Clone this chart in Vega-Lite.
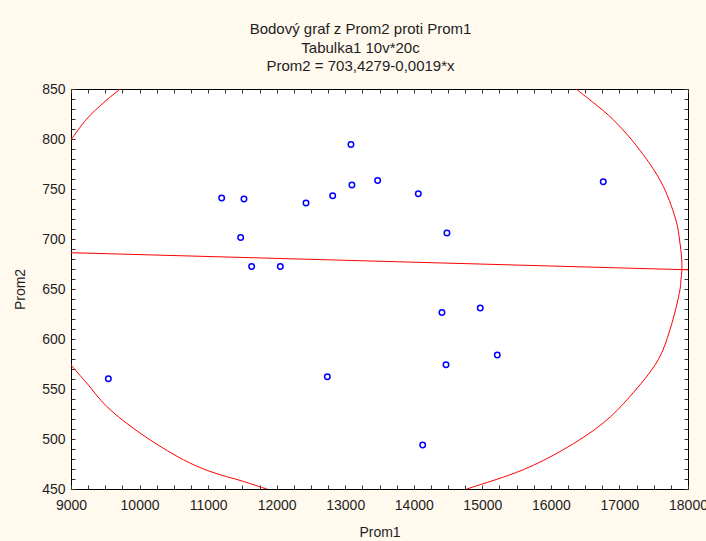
{
  "$schema": "https://vega.github.io/schema/vega-lite/v6.json",
  "width": 617,
  "height": 400,
  "autosize": {"type": "none"},
  "padding": {"left": 71, "top": 89, "right": 18, "bottom": 52},
  "background": "#FFF9EE",
  "title": {
    "text": ["Bodový graf z Prom2 proti Prom1", "Tabulka1 10v*20c", "Prom2 = 703,4279-0,0019*x"],
    "font": "Liberation Sans",
    "fontSize": 15,
    "fontWeight": "normal",
    "lineHeight": 18.5,
    "color": "#1e1e1e",
    "anchor": "middle",
    "dx": -19,
    "offset": 8
  },
  "config": {
    "view": {"stroke": "#000000", "strokeWidth": 1, "fill": "white"},
    "axis": {"labelFont": "Liberation Sans", "titleFont": "Liberation Sans", "labelColor": "#1e1e1e", "titleColor": "#1e1e1e", "gridColor": "#d9d9d9", "gridWidth": 1, "tickColor": "#333333", "domain": false}
  },
  "datasets": {
    "pts": [
      {"Prom1": 11198, "Prom2": 741},
      {"Prom1": 11523, "Prom2": 740},
      {"Prom1": 11475, "Prom2": 701.6},
      {"Prom1": 11635, "Prom2": 672.6},
      {"Prom1": 12053, "Prom2": 672.6},
      {"Prom1": 12428, "Prom2": 736},
      {"Prom1": 12817, "Prom2": 743.3},
      {"Prom1": 13084, "Prom2": 794.6},
      {"Prom1": 13098, "Prom2": 754},
      {"Prom1": 13473, "Prom2": 758.6},
      {"Prom1": 14066, "Prom2": 745.3},
      {"Prom1": 14484, "Prom2": 706},
      {"Prom1": 16764, "Prom2": 757.3},
      {"Prom1": 9545, "Prom2": 560.3},
      {"Prom1": 12739, "Prom2": 562.3},
      {"Prom1": 14411, "Prom2": 626.6},
      {"Prom1": 14970, "Prom2": 631},
      {"Prom1": 15218, "Prom2": 584},
      {"Prom1": 14470, "Prom2": 574.3},
      {"Prom1": 14130, "Prom2": 494}
    ],
    "reg": [
      {"Prom1": 9000, "Prom2": 686.3},
      {"Prom1": 18000, "Prom2": 669.2}
    ],
    "ell": [
      {"seg": "a", "i": 1, "Prom1": 8950, "Prom2": 795},
      {"seg": "a", "i": 2, "Prom1": 9000, "Prom2": 799.3},
      {"seg": "a", "i": 3, "Prom1": 9229, "Prom2": 820},
      {"seg": "a", "i": 4, "Prom1": 9496, "Prom2": 837.6},
      {"seg": "a", "i": 5, "Prom1": 9739, "Prom2": 851},
      {"seg": "a", "i": 6, "Prom1": 9800, "Prom2": 854},
      {"seg": "b", "i": 1, "Prom1": 16250, "Prom2": 857},
      {"seg": "b", "i": 2, "Prom1": 16351, "Prom2": 851},
      {"seg": "b", "i": 3, "Prom1": 16910, "Prom2": 819.3},
      {"seg": "b", "i": 4, "Prom1": 17348, "Prom2": 784.3},
      {"seg": "b", "i": 5, "Prom1": 17640, "Prom2": 752.6},
      {"seg": "b", "i": 6, "Prom1": 17835, "Prom2": 716},
      {"seg": "b", "i": 7, "Prom1": 17875, "Prom2": 700},
      {"seg": "b", "i": 8, "Prom1": 17908, "Prom2": 680},
      {"seg": "b", "i": 9, "Prom1": 17910, "Prom2": 668},
      {"seg": "b", "i": 10, "Prom1": 17897, "Prom2": 659},
      {"seg": "b", "i": 11, "Prom1": 17883, "Prom2": 649.3},
      {"seg": "b", "i": 12, "Prom1": 17737, "Prom2": 609.3},
      {"seg": "b", "i": 13, "Prom1": 17566, "Prom2": 579.3},
      {"seg": "b", "i": 14, "Prom1": 17154, "Prom2": 542.6},
      {"seg": "b", "i": 15, "Prom1": 16764, "Prom2": 516},
      {"seg": "b", "i": 16, "Prom1": 16180, "Prom2": 489.3},
      {"seg": "b", "i": 17, "Prom1": 15597, "Prom2": 469.3},
      {"seg": "b", "i": 18, "Prom1": 14820, "Prom2": 451},
      {"seg": "b", "i": 19, "Prom1": 14650, "Prom2": 447},
      {"seg": "c", "i": 1, "Prom1": 8950, "Prom2": 580},
      {"seg": "c", "i": 2, "Prom1": 9000, "Prom2": 574.3},
      {"seg": "c", "i": 3, "Prom1": 9229, "Prom2": 556},
      {"seg": "c", "i": 4, "Prom1": 9520, "Prom2": 532.6},
      {"seg": "c", "i": 5, "Prom1": 10006, "Prom2": 506},
      {"seg": "c", "i": 6, "Prom1": 10638, "Prom2": 479.3},
      {"seg": "c", "i": 7, "Prom1": 11027, "Prom2": 467.6},
      {"seg": "c", "i": 8, "Prom1": 11513, "Prom2": 457.6},
      {"seg": "c", "i": 9, "Prom1": 11854, "Prom2": 450},
      {"seg": "c", "i": 10, "Prom1": 12000, "Prom2": 447}
    ]
  },
  "resolve": {"axis": {"x": "independent", "y": "independent"}},
  "layer": [
    {
      "data": {"name": "ell"},
      "mark": {"type": "line", "color": "#ff0000", "strokeWidth": 1, "interpolate": "catmull-rom", "clip": true},
      "encoding": {
        "x": {"field": "Prom1", "type": "quantitative", "scale": {"domain": [9000, 18000], "nice": false, "zero": false}, "axis": null},
        "y": {"field": "Prom2", "type": "quantitative", "scale": {"domain": [450, 850], "nice": false, "zero": false}, "axis": null},
        "detail": {"field": "seg"},
        "order": {"field": "i", "type": "quantitative"}
      }
    },
    {
      "data": {"name": "reg"},
      "mark": {"type": "line", "color": "#ff0000", "strokeWidth": 1, "clip": true},
      "encoding": {
        "x": {"field": "Prom1", "type": "quantitative", "scale": {"domain": [9000, 18000], "nice": false, "zero": false},
          "axis": {"orient": "top", "labels": false, "title": null, "grid": false, "tickSize": -4,
            "values": [9000,9250,9500,9750,10000,10250,10500,10750,11000,11250,11500,11750,12000,12250,12500,12750,13000,13250,13500,13750,14000,14250,14500,14750,15000,15250,15500,15750,16000,16250,16500,16750,17000,17250,17500,17750,18000]}},
        "y": {"field": "Prom2", "type": "quantitative", "scale": {"domain": [450, 850], "nice": false, "zero": false},
          "axis": {"orient": "right", "labels": false, "title": null, "grid": false, "tickSize": -4,
            "values": [450,460,470,480,490,500,510,520,530,540,550,560,570,580,590,600,610,620,630,640,650,660,670,680,690,700,710,720,730,740,750,760,770,780,790,800,810,820,830,840,850]}}
      }
    },
    {
      "data": {"name": "pts"},
      "mark": {"type": "point", "shape": "circle", "filled": false, "color": "#0000ff", "strokeWidth": 1.5, "size": 30, "opacity": 1},
      "encoding": {
        "x": {"field": "Prom1", "type": "quantitative", "scale": {"domain": [9000, 18000], "nice": false, "zero": false},
          "axis": {"orient": "bottom", "title": "Prom1", "titleFontSize": 14, "titleFontWeight": "normal", "titlePadding": 13,
            "labelFontSize": 14, "labelPadding": 13, "tickSize": -4, "labelFlush": false, "labelOverlap": false,
            "labelExpr": "datum.value % 1000 === 0 ? '' + datum.value : ''",
            "gridOpacity": {"condition": {"test": "datum.value % 1000 === 0", "value": 1}, "value": 0},
            "values": [9000,9250,9500,9750,10000,10250,10500,10750,11000,11250,11500,11750,12000,12250,12500,12750,13000,13250,13500,13750,14000,14250,14500,14750,15000,15250,15500,15750,16000,16250,16500,16750,17000,17250,17500,17750,18000]}},
        "y": {"field": "Prom2", "type": "quantitative", "scale": {"domain": [450, 850], "nice": false, "zero": false},
          "axis": {"orient": "left", "title": "Prom2", "titleFontSize": 14, "titleFontWeight": "normal", "titlePadding": 14,
            "labelFontSize": 14, "labelPadding": 10, "tickSize": -4, "labelOverlap": false,
            "labelExpr": "datum.value % 50 === 0 ? '' + datum.value : ''",
            "gridOpacity": {"condition": {"test": "datum.value % 50 === 0", "value": 1}, "value": 0},
            "values": [450,460,470,480,490,500,510,520,530,540,550,560,570,580,590,600,610,620,630,640,650,660,670,680,690,700,710,720,730,740,750,760,770,780,790,800,810,820,830,840,850]}}
      }
    }
  ]
}
